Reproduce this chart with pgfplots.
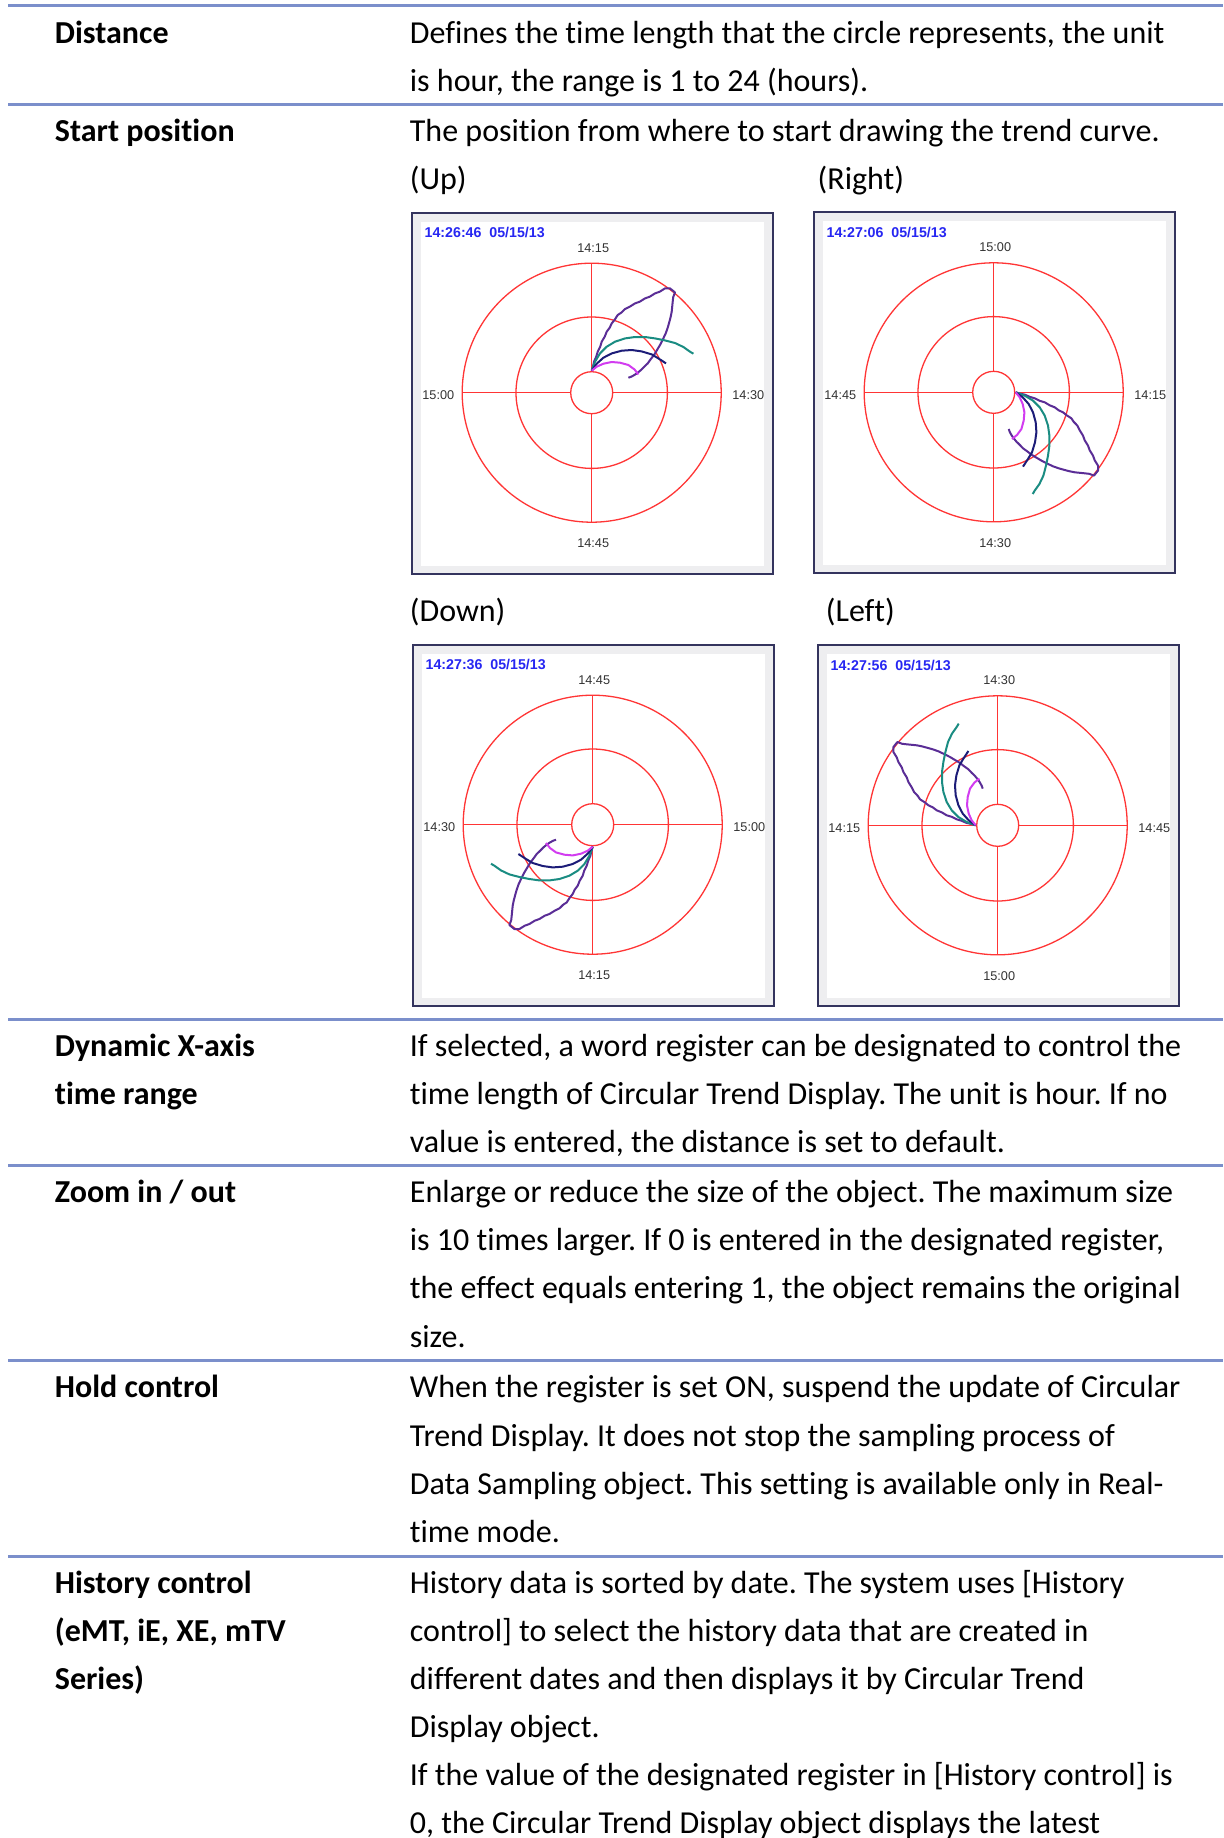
\documentclass[border=0pt]{standalone}
\usepackage{pgfplots}
\pgfplotsset{compat=1.18}
\usepackage{pgfplotstable}
\usepackage{fontspec}
\setmainfont{Carlito}[Ligatures={NoCommon,NoContextual}]
\newfontfamily\arial{Liberation Sans}

\definecolor{rulec}{HTML}{7B8FCB}
\definecolor{gridred}{HTML}{FF3535}
\definecolor{framec}{HTML}{34345E}
\definecolor{framebg}{HTML}{EEEEF0}
\definecolor{stampc}{HTML}{2626F2}
\definecolor{labc}{HTML}{333333}
\definecolor{cpurple}{HTML}{5A2D96}
\definecolor{cteal}{HTML}{1A8C82}
\definecolor{cnavy}{HTML}{1C1C78}
\definecolor{cmag}{HTML}{D23CF0}

% trend curves of the "Up" display, px from the centre, y up
\pgfplotstableread{
x y
0 22
1.5 27
2.3 31
4.5 36
6 41
8.5 46
10 51
13 56
15 61
18 65
20 69.3
23 73
26 77.7
29.5 80
33.3 83.7
38 86
43.3 89.3
48 91
53.3 94.3
58 96
63.3 99.3
68 101
73.3 104.3
78.3 104.3
83.3 100.3
81.5 95.5
81 91
80.5 86
80 81
79 76
77.7 71
76 65
74 59.3
71 53
68.3 47.7
65.5 43
62.7 38.3
59 33.5
56 29.3
52.5 26
49.3 22.7
46 20
42.7 17.7
39.5 16
36.7 15
}\purpledata

\pgfplotstableread{
x y
0 22
3.3 31
8.3 39.3
15 46
23.3 51
33.3 54.3
43.3 55.7
53.3 55.7
63.3 54.3
73.3 52.3
83.3 49.7
91.7 45.7
98.3 41
101.7 39
}\tealdata

\pgfplotstableread{
x y
0 22
5 29
11.7 35
20 39.3
30 42
40 42.7
50 41.3
60 38.3
66.7 34.3
71.7 31
74.3 29.3
}\navydata

\pgfplotstableread{
x y
0 22
5 26
11.7 29
20 30.7
28.3 30
36.7 27.7
42.7 23.3
46.7 18.3
}\magdata

% #1,#2 centre; #3,#4 x/y expr; #5 top, #6 right, #7 bottom, #8 left label; #9 time stamp
\newcommand{\trendchart}[9]{%
  \fill[framebg] ({#1-180},{#2-180}) rectangle ({#1+181},{#2+181});
  \draw[framec, line width=1pt] ({#1-180},{#2-180}) rectangle ({#1+181},{#2+181});
  \fill[white] ({#1-171},{#2-171}) rectangle ({#1+172.5},{#2+173});
  \begin{scope}[gridred, line width=0.65pt]
    \draw (#1,#2) circle[radius=21];
    \draw (#1,#2) circle[radius=75.7];
    \draw (#1,#2) circle[radius=129.5];
    \draw ({#1},{#2-21}) -- ({#1},{#2-129.5});
    \draw ({#1},{#2+21}) -- ({#1},{#2+129.5});
    \draw ({#1-21},{#2}) -- ({#1-129.5},{#2});
    \draw ({#1+21},{#2}) -- ({#1+129.5},{#2});
  \end{scope}
  \begin{scope}[labc, font=\arial\fontsize{6.35}{7}\selectfont]
    \node at ({#1+1.5},{#2-145}) {#5};
    \node at ({#1+156.6},{#2+2.5}) {#6};
    \node at ({#1+1.5},{#2+150.6}) {#7};
    \node at ({#1-153.4},{#2+2.5}) {#8};
  \end{scope}
  \node[anchor=west, inner sep=0, stampc, font=\arial\bfseries\fontsize{7.1}{8}\selectfont]
    at ({#1-167.4},{#2-160}) {#9};
  \coordinate (ctr) at (#1,#2);
  \begin{axis}[at={(ctr)}, anchor=center, x=0.5pt, y=0.5pt,
      xmin=-140, xmax=140, ymin=-140, ymax=140, hide axis, clip=false]
    \addplot[cpurple, line width=1pt, line join=round] table[x expr=#3, y expr=#4] {\purpledata};
    \addplot[cteal, line width=1pt, line join=round] table[x expr=#3, y expr=#4] {\tealdata};
    \addplot[cnavy, line width=1pt, line join=round] table[x expr=#3, y expr=#4] {\navydata};
    \addplot[cmag, line width=1pt, line join=round] table[x expr=#3, y expr=#4] {\magdata};
  \end{axis}
}

\begin{document}
\frenchspacing
\begin{tikzpicture}[x=0.5pt, y=-0.5pt]
\path[use as bounding box] (0,0) rectangle (1223,1838);

% table rules
\foreach \ry in {5,104.3,1019.3,1165.5,1360.7,1556}
  \draw[rulec, line width=1.5pt] (8,\ry) -- (1223,\ry);

\begin{scope}[every node/.style={anchor=base west, inner sep=0, font=\fontsize{16}{19}\selectfont}]
  % left column
  \node[font=\bfseries\fontsize{16}{19}\selectfont] at (54.5,43.3) {Distance};
  \node[font=\bfseries\fontsize{16}{19}\selectfont] at (54.5,141.5) {Start position};
  \node[font=\bfseries\fontsize{16}{19}\selectfont] at (54.5,1056.5) {Dynamic X-axis};
  \node[font=\bfseries\fontsize{16}{19}\selectfont] at (54.5,1104.6) {time range};
  \node[font=\bfseries\fontsize{16}{19}\selectfont] at (54.5,1202.7) {Zoom in / out};
  \node[font=\bfseries\fontsize{16}{19}\selectfont] at (54.5,1397.9) {Hold control};
  \node[font=\bfseries\fontsize{16}{19}\selectfont] at (54.5,1593.2) {History control};
  \node[font=\bfseries\fontsize{16}{19}\selectfont] at (54.5,1641.3) {(eMT, iE, XE, mTV};
  \node[font=\bfseries\fontsize{16}{19}\selectfont] at (54.5,1689.4) {Series)};
  % right column
  \node at (409.5,43.3) {Defines the time length that the circle represents, the unit};
  \node at (409.5,91.4) {is hour, the range is 1 to 24 (hours).};
  \node at (409.5,141.5) {The position from where to start drawing the trend curve.};
  \node at (409.5,189.6) {(Up)};
  \node at (817.3,189.6) {(Right)};
  \node at (409.5,621.5) {(Down)};
  \node at (825.5,621.5) {(Left)};
  \node at (409.5,1056.5) {If selected, a word register can be designated to control the};
  \node at (409.5,1104.6) {time length of Circular Trend Display. The unit is hour. If no};
  \node at (409.5,1152.7) {value is entered, the distance is set to default.};
  \node at (409.5,1202.7) {Enlarge or reduce the size of the object. The maximum size};
  \node at (409.5,1250.8) {is 10 times larger. If 0 is entered in the designated register,};
  \node at (409.5,1298.9) {the effect equals entering 1, the object remains the original};
  \node at (409.5,1347) {size.};
  \node at (409.5,1397.9) {When the register is set ON, suspend the update of Circular};
  \node at (409.5,1446) {Trend Display. It does not stop the sampling process of};
  \node at (409.5,1494.1) {Data Sampling object. This setting is available only in Real-};
  \node at (409.5,1542.2) {time mode.};
  \node at (409.5,1593.2) {History data is sorted by date. The system uses [History};
  \node at (409.5,1641.3) {control] to select the history data that are created in};
  \node at (409.5,1689.4) {different dates and then displays it by Circular Trend};
  \node at (409.5,1737.5) {Display object.};
  \node at (409.5,1785.6) {If the value of the designated register in [History control] is};
  \node at (409.5,1833.7) {0, the Circular Trend Display object displays the latest};
\end{scope}

\trendchart{591.7}{392.7}{\thisrow{x}}{\thisrow{y}}{14:15}{14:30}{14:45}{15:00}{14:26:46~~05/15/13}
\trendchart{993.7}{392.3}{\thisrow{y}}{-\thisrow{x}}{15:00}{14:15}{14:30}{14:45}{14:27:06~~05/15/13}
\trendchart{592.7}{824.7}{-\thisrow{x}}{-\thisrow{y}}{14:45}{15:00}{14:15}{14:30}{14:27:36~~05/15/13}
\trendchart{997.7}{825.3}{-\thisrow{y}}{\thisrow{x}}{14:30}{14:45}{15:00}{14:15}{14:27:56~~05/15/13}

\end{tikzpicture}
\end{document}
